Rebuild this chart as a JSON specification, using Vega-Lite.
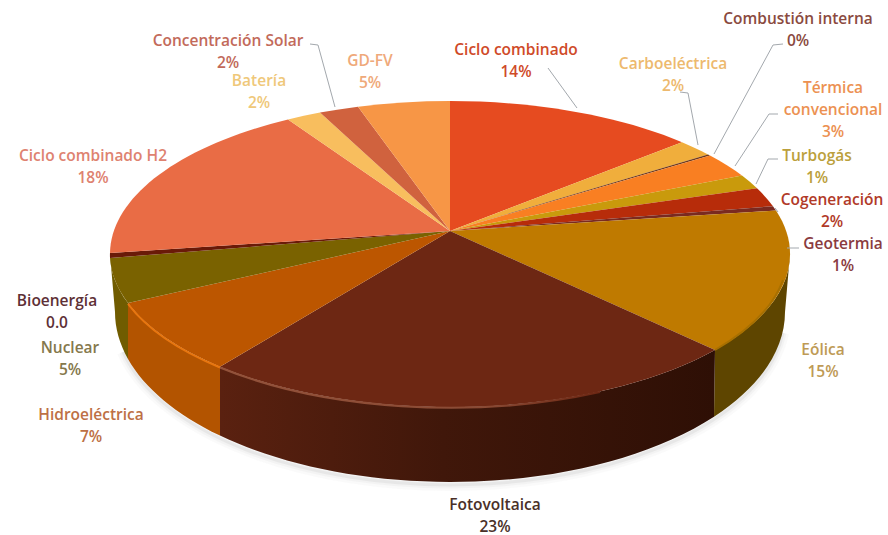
{
"$schema":"https://vega.github.io/schema/vega-lite/v6.json",
"width":888,"height":535,"padding":0,"autosize":{"type":"none"},
"background":"#ffffff",
"config":{"view":{"stroke":null}},
"datasets":{"mix":[
{"orden":1,"tecnologia":"Ciclo combinado","nombre":"Ciclo combinado","valor":14,"etiqueta":"14%"},
{"orden":2,"tecnologia":"Carboeléctrica","nombre":"Carboeléctrica","valor":2,"etiqueta":"2%"},
{"orden":3,"tecnologia":"Combustión interna","nombre":"Combustión interna","valor":0,"etiqueta":"0%"},
{"orden":4,"tecnologia":"Térmica convencional","nombre":"Térmica\nconvencional","valor":3,"etiqueta":"3%"},
{"orden":5,"tecnologia":"Turbogás","nombre":"Turbogás","valor":1,"etiqueta":"1%"},
{"orden":6,"tecnologia":"Cogeneración","nombre":"Cogeneración","valor":2,"etiqueta":"2%"},
{"orden":7,"tecnologia":"Geotermia","nombre":"Geotermia","valor":1,"etiqueta":"1%"},
{"orden":8,"tecnologia":"Eólica","nombre":"Eólica","valor":15,"etiqueta":"15%"},
{"orden":9,"tecnologia":"Fotovoltaica","nombre":"Fotovoltaica","valor":23,"etiqueta":"23%"},
{"orden":10,"tecnologia":"Hidroeléctrica","nombre":"Hidroeléctrica","valor":7,"etiqueta":"7%"},
{"orden":11,"tecnologia":"Nuclear","nombre":"Nuclear","valor":5,"etiqueta":"5%"},
{"orden":12,"tecnologia":"Bioenergía","nombre":"Bioenergía","valor":0,"etiqueta":"0.0"},
{"orden":13,"tecnologia":"Ciclo combinado H2","nombre":"Ciclo combinado H2","valor":18,"etiqueta":"18%"},
{"orden":14,"tecnologia":"Batería","nombre":"Batería","valor":2,"etiqueta":"2%"},
{"orden":15,"tecnologia":"Concentración Solar","nombre":"Concentración Solar","valor":2,"etiqueta":"2%"},
{"orden":16,"tecnologia":"GD-FV","nombre":"GD-FV","valor":5,"etiqueta":"5%"}
]},
"data":{"name":"mix"},
"layer":[
{"transform":[{"filter":"datum.orden==9"}],"encoding":{"x":{"value":0},"y":{"value":0}},"mark":{"type":"point","size":4,"filled":false,"stroke":"#8a8a8a","strokeOpacity":0.05,"strokeWidth":12,"shape":"M123 352 A335 170 0 0 0 783 333"}},
{"transform":[{"filter":"datum.orden==9"}],"encoding":{"x":{"value":0},"y":{"value":0}},"mark":{"type":"point","size":4,"filled":false,"stroke":"#8a8a8a","strokeOpacity":0.08,"strokeWidth":7,"shape":"M123 352 A335 170 0 0 0 783 333"}},
{"transform":[{"filter":"datum.orden==9"}],"encoding":{"x":{"value":0},"y":{"value":0}},"mark":{"type":"point","size":4,"filled":false,"stroke":"#8a8a8a","strokeOpacity":0.14,"strokeWidth":3,"shape":"M123 352 A335 170 0 0 0 783 333"}},
{"transform":[{"filter":"indexof([8,10,11],datum.orden)>=0"}],
 "mark":{"type":"point","size":4,"filled":true,"opacity":1,"strokeWidth":0},
 "encoding":{"x":{"value":0},"y":{"value":0},
  "shape":{"field":"tecnologia","type":"nominal","legend":null,"scale":{"domain":["Eólica","Hidroeléctrica","Nuclear"],"range":[
   "M790 254 A340 153 0 0 1 715 350 L714 416.7 A335 170 0 0 0 785 312 Z",
   "M220 366.7 A340 153 0 0 1 128 303.1 L128 358.9 A335 170 0 0 0 220 435.6 Z",
   "M128 303.1 A340 153 0 0 1 110 254 L115 312 A335 170 0 0 0 128 358.9 Z"]}},
  "fill":{"field":"tecnologia","type":"nominal","legend":null,"scale":{"domain":["Eólica","Hidroeléctrica","Nuclear"],"range":["#5E4500","#B35400","#705C00"]}}
 }},
{"transform":[{"filter":"datum.orden==9"}],"encoding":{"x":{"value":0},"y":{"value":0}},
 "mark":{"type":"point","size":4,"filled":true,"opacity":1,"strokeWidth":0,
  "shape":"M715 350 A340 153 0 0 1 220 366.7 L220 435.6 A335 170 0 0 0 714 416.7 Z",
  "fill":{"gradient":"linear","x1":0,"y1":0,"x2":1,"y2":0,"stops":[{"offset":0,"color":"#5A2110"},{"offset":0.45,"color":"#40170A"},{"offset":1,"color":"#2E0F05"}]}}},
{"mark":{"type":"point","size":4,"filled":true,"opacity":1,"strokeWidth":0},
 "encoding":{"x":{"value":0},"y":{"value":0},
  "shape":{"field":"tecnologia","type":"nominal","legend":null,"scale":{"domain":["Ciclo combinado","Carboeléctrica","Combustión interna","Térmica convencional","Turbogás","Cogeneración","Geotermia","Eólica","Fotovoltaica","Hidroeléctrica","Nuclear","Bioenergía","Ciclo combinado H2","Batería","Concentración Solar","GD-FV"],"range":[
   "M450 231 L450 101 A340 153 0 0 1 682 142.2 Z",
   "M450 231 L682 142.2 A340 153 0 0 1 708 154.4 Z",
   "M450 231 L708 154.4 A340 153 0 0 1 710 155.6 Z",
   "M450 231 L710 155.6 A340 153 0 0 1 742 175.6 Z",
   "M450 231 L742 175.6 A340 153 0 0 1 757 188.2 Z",
   "M450 231 L757 188.2 A340 153 0 0 1 773 206.2 Z",
   "M450 231 L773 206.2 A340 153 0 0 1 776 210.6 Z",
   "M450 231 L776 210.6 A340 153 0 0 1 715 350 Z",
   "M450 231 L715 350 A340 153 0 0 1 220 366.7 Z",
   "M450 231 L220 366.7 A340 153 0 0 1 128 303.1 Z",
   "M450 231 L128 303.1 A340 153 0 0 1 110 258 Z",
   "M450 231 L110 258 A340 153 0 0 1 110 253 Z",
   "M450 231 L110 253 A340 153 0 0 1 288 119.5 Z",
   "M450 231 L288 119.5 A340 153 0 0 1 320 112.6 Z",
   "M450 231 L320 112.6 A340 153 0 0 1 358 106.7 Z",
   "M450 231 L358 106.7 A340 153 0 0 1 450 101 Z"]}},
  "fill":{"field":"tecnologia","type":"nominal","legend":null,"scale":{"domain":["Ciclo combinado","Carboeléctrica","Combustión interna","Térmica convencional","Turbogás","Cogeneración","Geotermia","Eólica","Fotovoltaica","Hidroeléctrica","Nuclear","Bioenergía","Ciclo combinado H2","Batería","Concentración Solar","GD-FV"],"range":["#E64B20","#F0AE3C","#6E3A1E","#F97F22","#C99A0C","#B72C0A","#7A2A20","#BF7A00","#6D2713","#BC5600","#7A6200","#6A1A08","#E96C45","#F8BE5E","#D0623E","#F79646"]}}
 }},
{"transform":[{"filter":"indexof([8,10],datum.orden)>=0"}],
 "mark":{"type":"point","size":4,"filled":false,"opacity":1,"strokeWidth":2},
 "encoding":{"x":{"value":0},"y":{"value":0},
  "shape":{"field":"tecnologia","type":"nominal","legend":null,"scale":{"domain":["Eólica","Hidroeléctrica"],"range":[
   "M783 280 A340 153 0 0 1 715 350",
   "M220 367.5 A340 153 0 0 1 128 304"]}},
  "stroke":{"field":"tecnologia","type":"nominal","legend":null,"scale":{"domain":["Eólica","Hidroeléctrica"],"range":["#A87000","#E8760F"]}}
 }},
{"transform":[{"filter":"datum.orden==9"}],"encoding":{"x":{"value":0},"y":{"value":0}},
 "mark":{"type":"point","size":4,"filled":false,"opacity":1,"strokeWidth":2,
  "shape":"M220 367.5 A340 153 0 0 0 600 392",
  "stroke":{"gradient":"linear","x1":0,"y1":0,"x2":1,"y2":0,"stops":[{"offset":0,"color":"#93523A"},{"offset":0.7,"color":"#8A4A34"},{"offset":1,"color":"#6D2713"}]}}},
{"transform":[{"filter":"indexof([1,2,3,4,5,6,7,15],datum.orden)>=0"}],
 "mark":{"type":"point","size":4,"filled":false,"opacity":1,"strokeWidth":1,"stroke":"#A3A8AD"},
 "encoding":{"x":{"value":0},"y":{"value":0},
  "shape":{"field":"tecnologia","type":"nominal","legend":null,"scale":{"domain":["Ciclo combinado","Carboeléctrica","Combustión interna","Térmica convencional","Turbogás","Cogeneración","Geotermia","Concentración Solar"],"range":[
   "M577 108 L548 68",
   "M698 145 L688 93 L680 92",
   "M714 154 L773 45 L783 44",
   "M735 166 L769 114 L778 114",
   "M756 184 L768 159 L778 159",
   "M775 208 L778 212",
   "M787 248 L799 248",
   "M335 107 L318 45 L310 44"]}}
 }},
{"transform":[{"calculate":"datum.nombre + '\\n' + datum.etiqueta","as":"texto"}],
 "mark":{"type":"text","font":"Open Sans","fontWeight":600,"fontSize":15.5,"lineBreak":"\n","lineHeight":22,"align":"center","baseline":"top"},
 "encoding":{
  "x":{"field":"orden","type":"quantitative","axis":null,"scale":{"zero":false,"nice":false,"domain":[1,2,3,4,5,6,7,8,9,10,11,12,13,14,15,16],"range":[516,673,798,833,817,832,843,823,495,91,70,57,93,259,228,370]}},
  "y":{"field":"orden","type":"quantitative","axis":null,"scale":{"zero":false,"nice":false,"domain":[1,2,3,4,5,6,7,8,9,10,11,12,13,14,15,16],"range":[43,57,12,81,149,193,237,343,498,408,341,294,149,74,34,54]}},
  "text":{"field":"texto","type":"nominal"},
  "color":{"field":"tecnologia","type":"nominal","legend":null,"scale":{"domain":["Ciclo combinado","Carboeléctrica","Combustión interna","Térmica convencional","Turbogás","Cogeneración","Geotermia","Eólica","Fotovoltaica","Hidroeléctrica","Nuclear","Bioenergía","Ciclo combinado H2","Batería","Concentración Solar","GD-FV"],"range":["#CF4A28","#EDB96E","#8A4A40","#EC9152","#BBA03C","#B13A28","#8A3B3F","#BE9A55","#4A3028","#BD7045","#85784C","#5E3036","#DE8270","#EFC87A","#C26A5A","#EFA97A"]}}
 }}
],
"resolve":{"scale":{"shape":"independent","fill":"independent","stroke":"independent","color":"independent"}}
}
